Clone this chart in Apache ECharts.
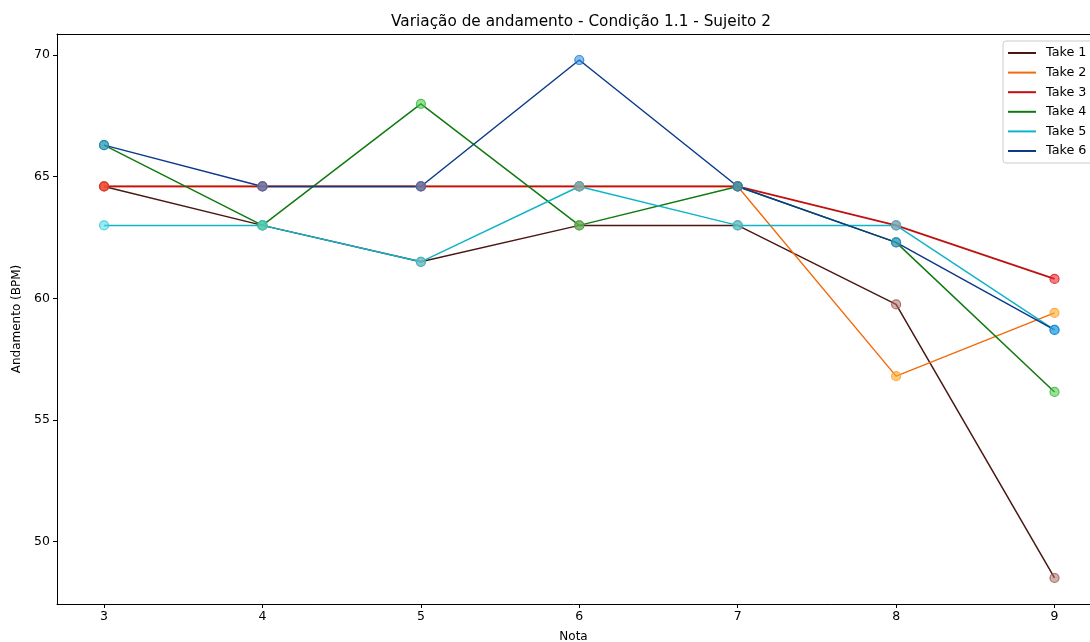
<!DOCTYPE html>
<html>
<head>
<meta charset="utf-8">
<script src="https://cdn.jsdelivr.net/npm/echarts@6/dist/echarts.min.js"></script>
<style>html,body{margin:0;padding:0;background:#fff}#c{width:1090px;height:642px}</style>
</head>
<body>
<div id="c"></div>
<script>
const notes = [3, 4, 5, 6, 7, 8, 9];
const take1 = [64.6, 63.0, 61.5, 63.0, 63.0, 59.75, 48.5];
const take2 = [64.6, 64.6, 64.6, 64.6, 64.6, 56.8, 59.4];
const take3 = [64.6, 64.6, 64.6, 64.6, 64.6, 63.0, 60.8];
const take4 = [66.3, 63.0, 68.0, 63.0, 64.6, 62.3, 56.15];
const take5 = [63.0, 63.0, 61.5, 64.6, 63.0, 63.0, 58.7];
const take6 = [66.3, 64.6, 64.6, 69.8, 64.6, 62.3, 58.7];
const seriesNames = ['Take 1', 'Take 2', 'Take 3', 'Take 4', 'Take 5', 'Take 6'];
const yTicks = [50, 55, 60, 65, 70];
const xTicks = [3, 4, 5, 6, 7, 8, 9];

const lineColors = ['#4a1812', '#f26a0a', '#c01010', '#107a10', '#10b4c8', '#0c3a8a'];
const lineWidths = [1.5, 1.4, 1.8, 1.5, 1.5, 1.5];
const markerFill = ['rgba(176,110,100,0.55)', 'rgba(255,170,40,0.6)', 'rgba(235,40,50,0.6)',
  'rgba(70,200,70,0.55)', 'rgba(70,220,230,0.55)', 'rgba(40,140,225,0.55)'];
const markerEdge = ['rgba(150,90,85,0.8)', 'rgba(250,160,40,0.8)', 'rgba(215,35,45,0.85)',
  'rgba(60,180,60,0.8)', 'rgba(50,200,215,0.8)', 'rgba(30,120,210,0.8)'];
const allTakes = [take1, take2, take3, take4, take5, take6];
const font = 'DejaVu Sans';

const series = allTakes.map((vals, i) => ({
  name: seriesNames[i],
  type: 'line',
  data: notes.map((n, k) => [n, vals[k]]),
  symbol: 'circle',
  symbolSize: 9,
  lineStyle: { color: lineColors[i], width: lineWidths[i] },
  itemStyle: { color: markerFill[i], borderColor: markerEdge[i], borderWidth: 1.2 },
  emphasis: { disabled: true },
  animation: false
}));

const chart = echarts.init(document.getElementById('c'), null, { renderer: 'canvas' });
chart.setOption({
  backgroundColor: '#fff',
  animation: false,
  title: {
    text: 'Variação de andamento - Condição 1.1 - Sujeito 2',
    left: 576, top: 10, textAlign: 'center',
    textStyle: { fontFamily: font, fontSize: 15.3, fontWeight: 'normal', color: '#000' }
  },
  legend: {
    data: seriesNames.map((n, i) => ({ name: n, itemStyle: { color: lineColors[i], borderWidth: 0, opacity: 1 } })),
    orient: 'vertical',
    left: 1003, top: 41,
    icon: 'rect',
    itemWidth: 28, itemHeight: 2,
    itemGap: 5.6,
    padding: [5, 14, 5, 5],
    backgroundColor: '#fff',
    borderColor: '#cccccc', borderWidth: 1, borderRadius: 3,
    textStyle: { fontFamily: font, fontSize: 12.75, color: '#000', lineHeight: 14, padding: [0, 0, 0, 5] }
  },
  grid: {
    left: 57, top: 34, right: 0, bottom: 38,
    show: false,
    containLabel: false,
    outerBoundsMode: 'none'
  },
  xAxis: [{
    type: 'value', min: 2.703, max: 9.224,
    name: 'Nota', nameLocation: 'middle', nameGap: 27,
    nameTextStyle: { fontFamily: font, fontSize: 12, color: '#000' },
    axisLine: { show: true, lineStyle: { color: '#000', width: 1 } },
    axisTick: { show: true, length: 4, lineStyle: { color: '#000' }, customValues: xTicks },
    axisLabel: { fontFamily: font, fontSize: 12.5, color: '#000', margin: 6, customValues: xTicks },
    splitLine: { show: false }
  }, {
    type: 'value', min: 2.703, max: 9.224, position: 'top',
    axisLine: { show: true, onZero: false, lineStyle: { color: '#000', width: 1 } },
    axisTick: { show: false }, axisLabel: { show: false }, splitLine: { show: false }
  }],
  yAxis: {
    type: 'value', min: 47.43, max: 70.87,
    name: 'Andamento (BPM)', nameLocation: 'middle', nameGap: 31, nameRotate: 90,
    nameTextStyle: { fontFamily: font, fontSize: 12, color: '#000' },
    axisLine: { show: true, onZero: false, lineStyle: { color: '#000', width: 1 } },
    axisTick: { show: true, length: 4, lineStyle: { color: '#000' }, customValues: yTicks },
    axisLabel: { fontFamily: font, fontSize: 12.5, color: '#000', margin: 7, customValues: yTicks },
    splitLine: { show: false }
  },
  series: series
});
</script>
</body>
</html>
